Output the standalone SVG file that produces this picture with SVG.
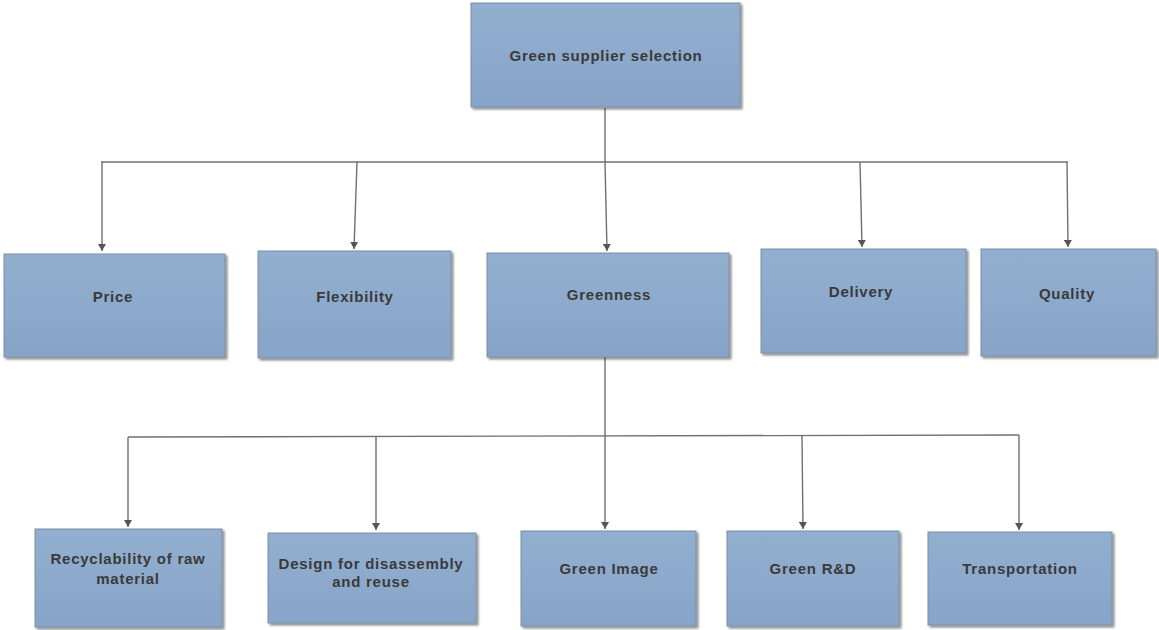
<svg xmlns="http://www.w3.org/2000/svg" width="1159" height="630" viewBox="0 0 1159 630">
  <defs>
    <linearGradient id="boxFill" x1="0" y1="0" x2="0" y2="1">
      <stop offset="0" stop-color="#93afcf"/>
      <stop offset="1" stop-color="#87a4c9"/>
    </linearGradient>
    <filter id="shadow" x="-5%" y="-5%" width="110%" height="115%">
      <feDropShadow dx="2" dy="2" stdDeviation="1.2" flood-color="#000" flood-opacity="0.45"/>
    </filter>
    <!-- arrowhead drawn along +x so orient="auto" turns it to follow each line -->
    <marker id="arrow" markerWidth="8" markerHeight="8" refX="7" refY="4" orient="auto" markerUnits="userSpaceOnUse" viewBox="0 0 8 8">
      <path d="M0,0 L7,4 L0,8 Z" fill="#555"/>
    </marker>
  </defs>
  <style>
    .box { fill: url(#boxFill); stroke: #7d8ea6; stroke-width: 1; filter: url(#shadow); }
    .label { font-family: "Liberation Sans", Arial, sans-serif; font-weight: bold; font-size: 15px; letter-spacing: 0.75px; fill: #3a3a3a; text-anchor: middle; }
    .line { fill: none; stroke: #707070; stroke-width: 1.4; }
    .arrowLine { fill: none; stroke: #707070; stroke-width: 1.4; }
  </style>
  <rect width="1159" height="630" fill="#ffffff"/>

  <g id="connectors">
    <!-- root to first-level criteria -->
    <path class="line" d="M605,108 L605,162"/>
    <path class="line" d="M101,162 L1068,162"/>
    <path class="arrowLine" d="M102,162 L102,251" marker-end="url(#arrow)"/>
    <path class="arrowLine" d="M357,162 L354,249" marker-end="url(#arrow)"/>
    <path class="arrowLine" d="M605,162 L607,251" marker-end="url(#arrow)"/>
    <path class="arrowLine" d="M860,162 L862,247" marker-end="url(#arrow)"/>
    <path class="arrowLine" d="M1067,162 L1068,247" marker-end="url(#arrow)"/>
    <!-- greenness to sub-criteria -->
    <path class="line" d="M605,357 L605,436"/>
    <path class="line" d="M128,437 L1019,435"/>
    <path class="arrowLine" d="M128,437 L128,527" marker-end="url(#arrow)"/>
    <path class="arrowLine" d="M376,437 L376,530" marker-end="url(#arrow)"/>
    <path class="arrowLine" d="M605,436 L605,529" marker-end="url(#arrow)"/>
    <path class="arrowLine" d="M802,436 L803,529" marker-end="url(#arrow)"/>
    <path class="arrowLine" d="M1019,435 L1019,530" marker-end="url(#arrow)"/>
  </g>

  <g id="node-root">
    <rect class="box" x="471" y="3" width="269" height="104"/>
    <text class="label" x="606" y="61">Green supplier selection</text>
  </g>

  <g id="node-price">
    <rect class="box" x="4" y="254" width="221" height="103"/>
    <text class="label" x="113" y="302">Price</text>
  </g>
  <g id="node-flexibility">
    <rect class="box" x="258" y="251" width="193" height="107"/>
    <text class="label" x="355" y="302">Flexibility</text>
  </g>
  <g id="node-greenness">
    <rect class="box" x="487" y="253" width="242" height="104"/>
    <text class="label" x="609" y="300">Greenness</text>
  </g>
  <g id="node-delivery">
    <rect class="box" x="761" y="249" width="205" height="104"/>
    <text class="label" x="861" y="297">Delivery</text>
  </g>
  <g id="node-quality">
    <rect class="box" x="981" y="249" width="175" height="107"/>
    <text class="label" x="1067" y="299">Quality</text>
  </g>

  <g id="node-recyclability">
    <rect class="box" x="35" y="529" width="187" height="98"/>
    <text class="label" x="128" y="564">Recyclability of raw</text>
    <text class="label" x="128" y="584">material</text>
  </g>
  <g id="node-design">
    <rect class="box" x="268" y="533" width="208" height="90"/>
    <text class="label" x="371" y="569">Design for disassembly</text>
    <text class="label" x="371" y="587">and reuse</text>
  </g>
  <g id="node-green-image">
    <rect class="box" x="521" y="531" width="175" height="95"/>
    <text class="label" x="609" y="574">Green Image</text>
  </g>
  <g id="node-green-rd">
    <rect class="box" x="727" y="531" width="172" height="95"/>
    <text class="label" x="813" y="574">Green R&amp;D</text>
  </g>
  <g id="node-transportation">
    <rect class="box" x="928" y="532" width="184" height="93"/>
    <text class="label" x="1020" y="574">Transportation</text>
  </g>
</svg>
